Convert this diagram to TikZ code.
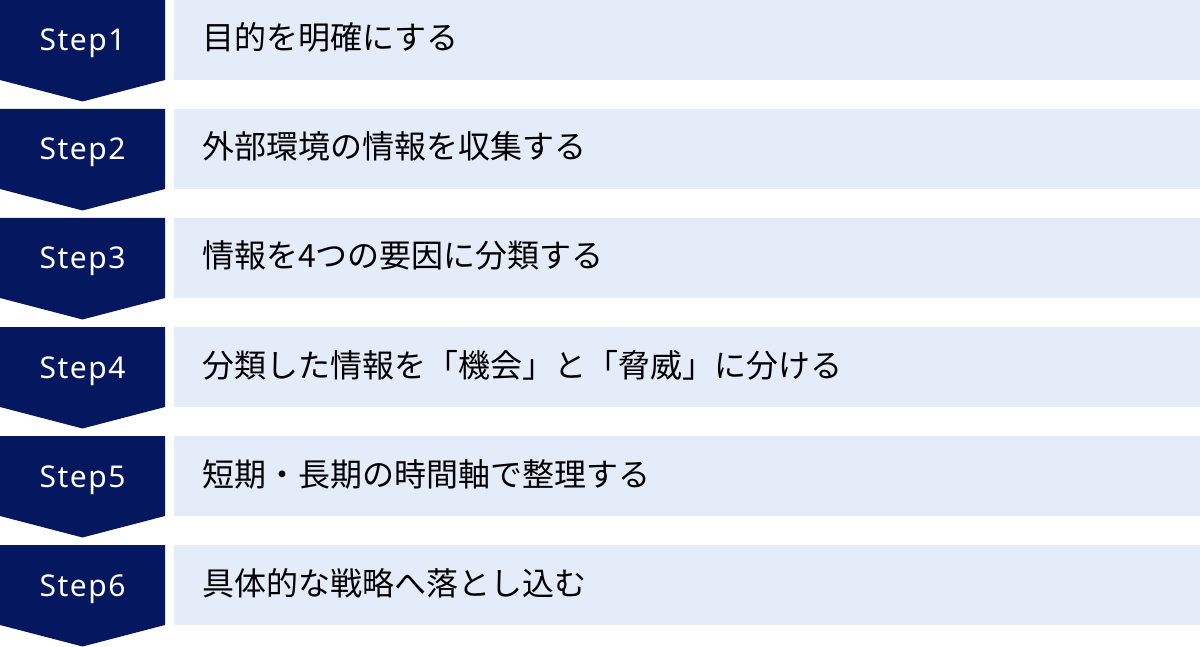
\documentclass[tikz,border=0pt]{standalone}
\usepackage{fontspec}
\usepackage{xcolor}
\usepackage{tikz}
\setmainfont{Noto Sans}
\newfontfamily\jpfont{Noto Sans CJK JP}
\newfontfamily\stepfont[LetterSpace=5]{Noto Sans}
\definecolor{navy}{HTML}{05185F}
\definecolor{paleblue}{HTML}{E5ECF9}

\begin{document}
\begin{tikzpicture}[x=1pt, y=1pt,
        chevron/.style = {fill=navy},
        box/.style = {rectangle, fill=paleblue, inner sep=0pt, minimum width=1026pt, minimum height=80pt, anchor=north west},
        steplabel/.style = {text=white, inner sep=0pt, anchor=base, font=\stepfont\fontsize{30}{32}\selectfont},
        boxtext/.style = {text=black, inner sep=0pt, anchor=base west, font=\jpfont\fontsize{32}{34}\selectfont}
    ]
        \useasboundingbox (0,0) rectangle (1200,-647);
        \foreach \i/\t in {1/目的を明確にする, 2/外部環境の情報を収集する, 3/情報を4つの要因に分類する,
                4/分類した情報を「機会」と「脅威」に分ける, 5/短期・長期の時間軸で整理する, 6/具体的な戦略へ落とし込む} {
            \pgfmathsetmacro{\y}{-109*(\i-1)}
            \fill[chevron] (0,\y) -- ++(165,0) -- ++(0,-80) -- ++(-82.5,-21.5) -- ++(-82.5,21.5) -- cycle;
            \node[steplabel] (step\i) at (82.5,\y-51) {Step\i};
            \node[box] (box\i) at (174,\y) {};
            \node[boxtext] (text\i) at (202,\y-50) {\t};
        }
    \end{tikzpicture}
\end{document}
